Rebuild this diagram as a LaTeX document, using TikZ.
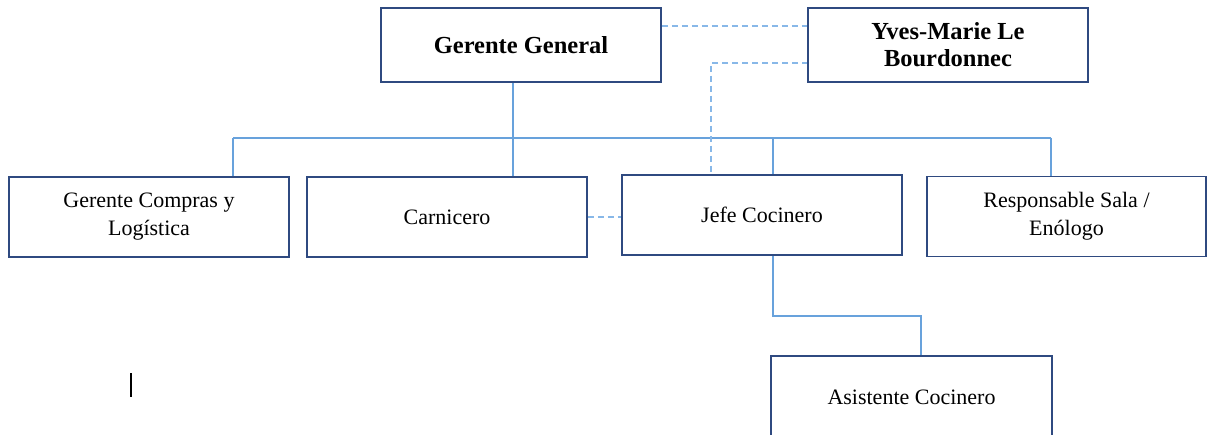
\documentclass[tikz,border=0pt]{standalone}
\usepackage{fontspec}
\setmainfont{Liberation Serif}
\definecolor{boxc}{HTML}{2F4A80}
\definecolor{linec}{HTML}{68A2DC}
\definecolor{dashc}{HTML}{88B8E8}
\begin{document}
\begin{tikzpicture}[x=1pt,y=-1pt,
  orgbox/.style={draw=boxc,line width=1.6pt,fill=white,minimum width=280pt,minimum height=80pt,align=center,font=\fontsize{22}{28}\selectfont,inner sep=0pt},
  topbox/.style={orgbox,minimum height=74pt,font=\bfseries\fontsize{24.5}{27}\selectfont},
  link/.style={draw=linec,line width=1.4pt},
  dlink/.style={draw=dashc,line width=1.5pt,dash pattern=on 6pt off 4pt}]
\clip (0,0) rectangle (1214,435);
\fill[white] (0,0) rectangle (1214,435);
% nodes
\node[topbox] (gg) at (521,45) {Gerente General};
\node[topbox] (ym) at (948,45) {Yves-Marie Le\\Bourdonnec};
\node[orgbox] (gc) at (149,217) {Gerente Compras y\\Logística};
\node[orgbox] (ca) at (447,217) {Carnicero};
\node[orgbox] (jc) at (762,215) {Jefe Cocinero};
\node[orgbox,minimum width=279pt] (rs) at (1066.5,216.5) {Responsable Sala /\\Enólogo};
\node[orgbox,minimum width=281pt,minimum height=82pt] (ac) at (911.5,397) {Asistente Cocinero};
% coordinates
\coordinate (bus) at (513,138);
\coordinate (ggb) at (513,82);
\coordinate (ymw) at (808,63);
\coordinate (ymc) at (711,63);
\coordinate (jcb) at (773,255);
\coordinate (mid) at (773,316);
% solid connectors
\draw[link] (ggb) -- (bus);
\draw[link] (233,138) -- (1051,138);
\draw[link] (233,138) -- (233,177);
\draw[link] (bus) -- (ca.north -| bus);
\draw[link] (773,138) -- (773,175);
\draw[link] (1051,138) -- (1051,177);
\draw[link] (jcb) -- (mid) -- (921,316) -- (921,356);
% dashed connectors
\draw[dlink] (gg.east |- 0,26) -- (ym.west |- 0,26);
\draw[dlink] (ymw) -- (ymc) -- (ymc |- jc.north);
\draw[dlink] (ca.east) -- (jc.west |- ca.east);
% redraw boxes over lines
\node[topbox] at (gg) {Gerente General};
\node[topbox] at (ym) {Yves-Marie Le\\Bourdonnec};
\node[orgbox] at (gc) {Gerente Compras y\\Logística};
\node[orgbox] at (ca) {Carnicero};
\node[orgbox] at (jc) {Jefe Cocinero};
\node[orgbox,minimum width=279pt] at (rs) {Responsable Sala /\\Enólogo};
\node[orgbox,minimum width=281pt,minimum height=82pt] at (ac) {Asistente Cocinero};
% text cursor
\draw[black,line width=1.3pt] (131,373) -- (131,397);
\end{tikzpicture}
\end{document}
